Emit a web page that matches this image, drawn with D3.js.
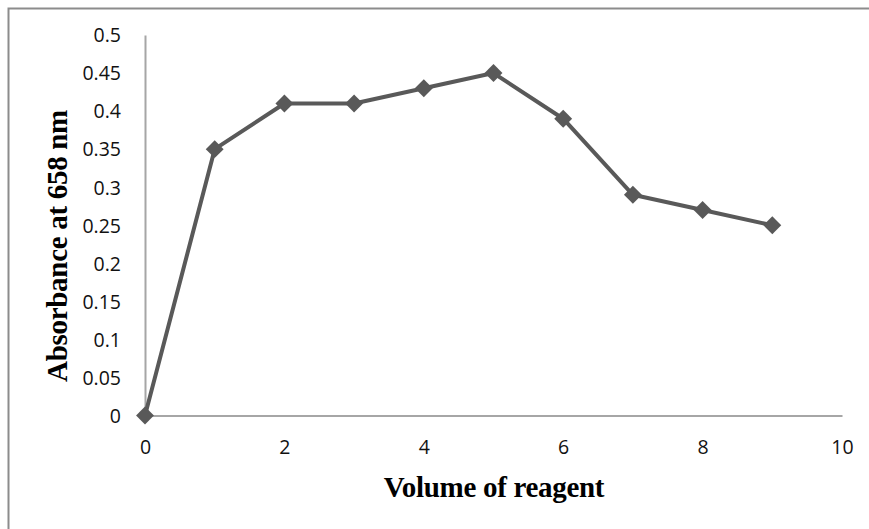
<!DOCTYPE html>
<html><head><meta charset="utf-8">
<script src="https://cdn.jsdelivr.net/npm/d3@7"></script>
<style>body{margin:0;background:#fff;overflow:hidden}svg{display:block}</style>
</head><body>
<svg id="c" width="869" height="529"></svg>
<script>
const xValues = [0,1,2,3,4,5,6,7,8,9];
const absorbance = [0,0.35,0.41,0.41,0.43,0.45,0.39,0.29,0.27,0.25];
const xTicks = [0,2,4,6,8,10];
const yTicks = [0,0.05,0.1,0.15,0.2,0.25,0.3,0.35,0.4,0.45,0.5];
const xTitle = "Volume of reagent";
const yTitle = "Absorbance at 658 nm";

const svg = d3.select("#c");
svg.append("path").attr("d","M8.5,529V8.5H869")
  .attr("fill","none").attr("stroke","#8c8c8c").attr("stroke-width",2);

const x = d3.scaleLinear().domain([0,10]).range([145,842]);
const y = d3.scaleLinear().domain([0,0.5]).range([415.5,35]);
const tickFont = "'Open Sans', 'Noto Sans', sans-serif";

const xa = svg.append("g").attr("transform","translate(0,415.5)")
  .call(d3.axisBottom(x).tickValues(xTicks).tickFormat(d3.format("d")).tickSize(0).tickPadding(25));
const ya = svg.append("g").attr("transform","translate(145,0)")
  .call(d3.axisLeft(y).tickValues(yTicks).tickFormat(d=>String(+d.toFixed(2))).tickSize(0).tickPadding(24));
[xa,ya].forEach(g=>{
  g.select(".domain").attr("stroke","#a6a6a6").attr("stroke-width",2);
  g.selectAll("text").attr("font-family",tickFont).attr("font-size",19.5).attr("fill","#111");
});
ya.selectAll("text").attr("dy","0.35em");
xa.selectAll("text").attr("dy","0.71em");

const pts = xValues.map((v,i)=>[v,absorbance[i]]);
svg.append("path").datum(pts)
  .attr("d", d3.line().x(d=>x(d[0])).y(d=>y(d[1])))
  .attr("fill","none").attr("stroke","#595959").attr("stroke-width",4).attr("stroke-linejoin","round");
svg.append("g").selectAll("path").data(pts).join("path")
  .attr("d", d3.symbol(d3.symbolSquare, 160))
  .attr("transform",d=>`translate(${x(d[0])},${y(d[1])}) rotate(45)`)
  .attr("fill","#595959");

svg.append("text").attr("x",494).attr("y",497).attr("text-anchor","middle")
  .attr("font-family","'Liberation Serif', 'Times New Roman', serif").attr("font-weight","bold")
  .attr("font-size",29).attr("letter-spacing","-0.3").attr("fill","#000").text(xTitle);
svg.append("text").attr("transform","translate(67,246) rotate(-90)").attr("text-anchor","middle")
  .attr("font-family","'Liberation Serif', 'Times New Roman', serif").attr("font-weight","bold")
  .attr("font-size",29).attr("letter-spacing","-0.3").attr("fill","#000").text(yTitle);
</script>
</body></html>
